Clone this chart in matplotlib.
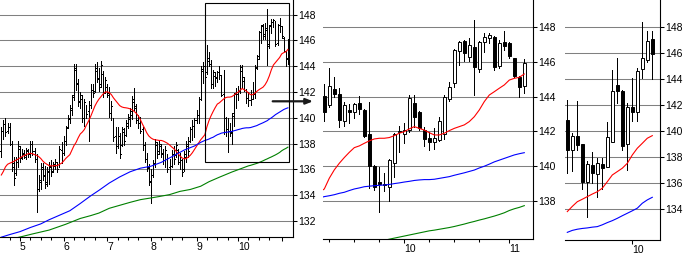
#! /usr/bin/env python3
import numpy as np
import matplotlib
matplotlib.use('Agg')
from matplotlib import pyplot as plt
from matplotlib.patches import Rectangle

plt.rcParams['font.family'] = ['Liberation Sans', 'DejaVu Sans']
plt.rcParams['font.size'] = 7.5

# ---- daily bars, trading day index 0..138 (left panel = all, middle panel = 98..138) ----
day_open = [
    137.4, 138.9, 139.4, 139.0, 139.3, 138.0, 136.5, 135.7, 136.6, 137.6,
    137.0, 137.2, 137.0, 137.4, 137.3, 137.9, 137.4, 136.8, 134.5, 135.0,
    136.0, 135.6, 135.0, 135.8, 136.2, 135.9, 136.3, 136.5, 136.3, 137.5,
    137.3, 138.2, 139.3, 139.9, 140.6, 141.8, 143.7, 142.7, 141.3, 141.5,
    140.1, 140.8, 140.5, 141.0, 142.2, 142.1, 143.6, 143.0, 142.6, 143.4,
    142.0, 142.4, 141.9, 140.5, 139.8, 138.6, 137.8, 138.6, 137.9, 138.9,
    138.7, 139.4, 139.9, 140.2, 141.2, 140.8, 139.9, 139.5, 139.1, 137.9,
    136.8, 136.2, 135.0, 135.6, 136.4, 137.9, 137.4, 137.8, 137.2, 136.6,
    137.1, 136.2, 136.3, 137.2, 137.1, 137.5, 136.6, 136.7, 136.0, 137.0,
    137.8, 138.2, 138.9, 139.3, 139.8, 140.2, 141.5, 143.6,
    144.04, 143.53, 144.44, 144.14, 142.60, 143.22, 143.10, 143.62, 143.24, 141.85,
    140.01, 139.11, 138.95, 138.82, 140.16, 141.95, 141.84, 142.09, 143.62, 143.14,
    142.08, 141.64, 141.42, 141.50, 141.85, 143.85, 144.77, 146.65, 147.21, 146.31,
    146.85, 145.58, 147.17, 147.37, 147.46, 145.79, 147.17, 147.12, 146.21, 145.16,
    144.62]
day_high = [
    139.3, 139.8, 140.0, 139.6, 139.6, 138.2, 137.0, 137.0, 138.2, 137.8,
    137.6, 137.5, 137.7, 137.6, 138.2, 138.2, 137.7, 137.2, 135.6, 136.5,
    136.5, 136.3, 136.2, 136.6, 136.7, 136.6, 136.8, 136.6, 137.8, 138.1,
    138.6, 139.4, 140.2, 141.0, 141.8, 144.2, 144.2, 143.0, 142.0, 141.8,
    141.5, 141.0, 141.3, 142.6, 142.6, 144.2, 144.3, 143.9, 144.4, 143.6,
    143.2, 142.6, 142.4, 141.3, 140.0, 139.3, 139.3, 138.8, 139.3, 139.2,
    139.8, 140.3, 140.8, 141.7, 142.3, 141.1, 140.2, 140.1, 139.3, 138.1,
    137.3, 136.4, 136.0, 136.7, 138.4, 138.1, 138.3, 138.0, 137.6, 137.8,
    137.2, 136.8, 137.5, 137.8, 138.1, 137.6, 137.3, 136.8, 137.4, 138.2,
    138.5, 139.3, 139.8, 140.0, 140.6, 141.6, 144.0, 144.3,
    144.74, 145.68, 145.14, 144.52, 143.68, 143.57, 143.62, 144.04, 143.30, 143.68,
    140.05, 139.97, 139.59, 140.40, 141.90, 142.31, 142.47, 144.10, 144.10, 143.18,
    142.24, 141.99, 142.18, 142.81, 144.10, 144.87, 146.73, 147.21, 147.25, 147.36,
    148.42, 147.21, 147.65, 147.65, 147.50, 147.27, 147.78, 147.15, 146.25, 145.20,
    146.15]
day_low = [
    137.0, 138.4, 138.6, 138.8, 137.9, 135.9, 134.8, 135.6, 136.2, 136.6,
    136.8, 136.9, 136.8, 137.0, 137.0, 137.1, 136.6, 132.7, 134.3, 134.5,
    135.2, 134.6, 134.7, 134.9, 135.5, 135.8, 136.0, 135.8, 136.2, 136.5,
    137.1, 137.9, 139.2, 139.6, 140.2, 141.4, 142.2, 140.9, 140.8, 139.7,
    139.4, 140.0, 138.2, 140.8, 141.6, 142.0, 142.8, 142.1, 142.4, 141.6,
    141.9, 141.6, 140.1, 139.8, 138.2, 137.3, 137.7, 136.9, 137.8, 137.9,
    138.6, 139.2, 139.4, 139.9, 140.6, 139.6, 139.2, 138.8, 137.5, 136.6,
    135.9, 134.8, 133.4, 135.4, 136.2, 136.9, 137.2, 137.0, 136.4, 136.2,
    135.8, 134.9, 136.2, 136.4, 137.0, 136.4, 136.0, 135.5, 135.9, 136.6,
    137.0, 138.1, 138.3, 138.5, 139.6, 139.6, 141.4, 142.7,
    142.61, 143.43, 144.00, 142.28, 142.34, 142.51, 142.80, 143.01, 141.70, 138.73,
    138.63, 137.39, 138.59, 138.01, 139.40, 140.80, 141.36, 141.96, 142.28, 142.09,
    141.19, 140.94, 140.97, 141.47, 141.54, 143.77, 144.58, 145.83, 146.08, 146.08,
    144.10, 145.41, 146.60, 147.08, 145.54, 145.64, 146.69, 146.21, 145.16, 144.00,
    144.20]
day_close = [
    139.0, 139.5, 138.9, 139.4, 138.1, 136.2, 135.3, 136.8, 137.8, 136.9,
    137.3, 137.1, 137.5, 137.2, 138.0, 137.4, 136.9, 133.4, 135.2, 136.2,
    135.5, 134.9, 135.9, 136.3, 135.8, 136.4, 136.6, 136.0, 137.6, 137.1,
    138.4, 139.2, 140.0, 140.8, 141.6, 143.9, 142.6, 141.2, 141.8, 140.0,
    141.2, 140.3, 141.0, 142.4, 141.9, 143.9, 143.1, 142.4, 144.1, 141.9,
    142.9, 141.8, 140.4, 140.9, 138.5, 137.6, 139.0, 137.2, 139.1, 138.2,
    139.6, 140.1, 140.5, 141.5, 140.9, 139.8, 139.6, 139.0, 137.8, 136.9,
    136.1, 135.1, 135.6, 136.5, 138.1, 137.2, 138.0, 137.3, 136.7, 137.5,
    136.0, 135.4, 137.3, 136.8, 137.9, 136.6, 137.0, 135.8, 137.2, 138.0,
    137.4, 139.1, 139.4, 139.8, 140.3, 141.4, 143.8, 144.0,
    143.14, 144.62, 144.16, 142.66, 143.53, 143.14, 143.57, 143.30, 141.76, 140.03,
    138.82, 138.98, 138.90, 140.35, 141.85, 142.00, 142.08, 143.91, 142.85, 142.18,
    141.57, 141.38, 141.64, 142.60, 143.96, 144.58, 146.69, 147.13, 146.50, 146.98,
    145.70, 147.13, 147.46, 147.56, 145.73, 147.08, 146.94, 146.35, 145.21, 144.54,
    145.96]

# moving averages
red_ma = [
    135.57, 135.85, 136.2, 136.4, 136.48, 136.55, 136.62, 136.72, 136.8, 136.9,
    137.0, 137.08, 137.15, 137.22, 137.25, 137.22, 137.15, 137.1, 137.0, 136.85,
    136.65, 136.5, 136.4, 136.3, 136.28, 136.28, 136.3, 136.3, 136.4, 136.48,
    136.65, 136.85, 137.0, 137.15, 137.5, 137.85, 138.1, 138.45, 138.75, 138.9,
    139.1, 139.45, 139.75, 140.1, 140.5, 140.9, 141.2, 141.45, 141.65, 141.85,
    142.0, 142.02, 141.95, 141.8, 141.55, 141.35, 141.15, 140.95, 140.85, 140.8,
    140.78, 140.75, 140.7, 140.62, 140.5, 140.35, 140.15, 139.85, 139.5, 139.2,
    138.85, 138.6, 138.45, 138.35, 138.3, 138.28, 138.25, 138.25, 138.2, 138.12,
    138.03, 137.9, 137.75, 137.62, 137.45, 137.25, 137.05, 136.9, 136.82, 136.85,
    136.95, 137.1, 137.3, 137.55, 137.8, 138.05, 138.3, 138.5,
    138.69, 139.31, 139.79, 140.17, 140.5, 140.8, 141.07, 141.17, 141.32, 141.46,
    141.57, 141.61, 141.61, 141.65, 141.76, 141.9, 141.99, 142.15, 142.28, 142.18,
    142.08, 141.93, 141.8, 141.8, 141.9, 142.05, 142.18, 142.28, 142.38, 142.57,
    142.85, 143.24, 143.72, 144.1, 144.29, 144.49, 144.68, 144.96, 145.06, 145.12,
    145.31]
blue_days = [0, 4, 9, 14, 19, 23, 28, 33, 38, 43, 47, 52, 57, 62, 67, 72, 77, 84, 88,
             93, 96] + list(range(98, 139))
blue_ma = [130.75, 130.95, 131.18, 131.5, 131.78, 132.1, 132.45, 132.8, 133.36, 133.95,
           134.38, 134.95, 135.42, 135.82, 136.1, 136.25, 136.55, 137.15, 137.5, 137.82,
           138.1,
           138.25, 138.3, 138.36, 138.44, 138.5, 138.6, 138.69, 138.75, 138.82, 138.85,
           138.88, 138.9, 138.92, 138.95, 139.0, 139.04, 139.09, 139.13, 139.18, 139.21,
           139.23, 139.23, 139.25, 139.3, 139.35, 139.4, 139.48, 139.55, 139.62, 139.7,
           139.78, 139.9, 140.0, 140.12, 140.25, 140.35, 140.45, 140.55, 140.65, 140.72,
           140.78]
green_days = [5, 10, 15, 23, 31, 38, 43, 47, 52, 57, 62, 67, 72, 76, 81, 86, 91, 96, 100,
              105] + list(range(111, 139))
green_ma = [130.62, 130.8, 131.0, 131.3, 131.75, 132.2, 132.42, 132.62, 132.99, 133.22,
            133.45, 133.66, 133.79, 133.9, 134.05, 134.3, 134.45, 134.7, 135.05, 135.4,
            135.8, 135.86, 135.92, 135.98, 136.04, 136.1, 136.16, 136.22, 136.28, 136.32,
            136.37, 136.42, 136.47, 136.53, 136.6, 136.67, 136.75, 136.82, 136.9, 136.97,
            137.05, 137.13, 137.22, 137.32, 137.45, 137.55, 137.63, 137.73]

month_days = [9, 30, 51, 72, 94, 114, 135]
month_names = ['5', '6', '7', '8', '9', '10', '']
minor_days = [4, 14, 19, 24, 35, 40, 45, 56, 61, 66, 77, 82, 87, 99, 104, 109, 119, 124, 129]

# ---- weekly candles (right panel) ----
wk_open = [140.86, 138.55, 139.62, 139.0, 136.1, 137.39, 136.7, 137.47, 137.21,
           139.19, 143.56, 143.12, 139.01, 141.84, 141.5, 144.76, 145.48, 147.1]
wk_high = [142.39, 139.83, 142.35, 139.0, 137.73, 138.42, 137.9, 137.96, 140.73,
           144.71, 145.61, 143.2, 142.2, 144.07, 144.84, 148.44, 147.72, 147.72]
wk_low = [136.75, 136.96, 138.55, 135.52, 133.36, 136.03, 134.9, 135.52, 137.21,
          139.19, 142.2, 138.55, 137.0, 140.81, 140.81, 144.07, 145.35, 144.0]
wk_close = [138.55, 139.62, 138.93, 136.1, 137.47, 136.8, 137.52, 137.14, 139.58,
            143.12, 143.12, 138.88, 141.84, 141.5, 144.64, 145.61, 146.97, 145.92]
wk_red = [133.8, 134.2, 134.56, 134.75, 134.95, 135.15, 135.33, 135.6, 136.1,
          136.62, 136.88, 137.14, 137.52, 138.16, 138.68, 139.06, 139.45, 139.65]
wk_blue = [132.2, 132.35, 132.44, 132.5, 132.54, 132.6, 132.64, 132.78, 132.95,
           133.1, 133.28, 133.48, 133.67, 133.86, 134.06, 134.44, 134.7, 134.9]

GRID = '#808080'


def style_axis(ax, yticks):
    ax.set_yticks(yticks)
    ax.yaxis.tick_right()
    ax.grid(axis='y', color=GRID, lw=0.75)
    ax.set_axisbelow(True)
    for s in ('left', 'top'):
        ax.spines[s].set_visible(False)
    for s in ('right', 'bottom'):
        ax.spines[s].set_linewidth(0.8)
    ax.tick_params(axis='y', length=3, width=0.75, pad=0.8, labelsize=7.5)
    ax.tick_params(axis='x', which='major', length=3.0, width=0.75, pad=0.4, labelsize=7.5)
    ax.tick_params(axis='x', which='minor', length=1.8, width=0.75)


def set_xlabels(ax, ticks, labels, minor=()):
    ax.set_xticks(ticks)
    ax.set_xticklabels(labels)
    ax.set_xticks(minor, minor=True)
    for t in ax.get_xticklabels():
        t.set_ha('left')


def candles(ax, x, o, h, l, c, width=0.62):
    ax.vlines(x, l, h, color='k', lw=0.7, antialiased=False, zorder=2)
    for xi, oi, ci in zip(x, o, c):
        lo, hi = min(oi, ci), max(oi, ci)
        fc = 'k' if ci < oi else 'white'
        ax.add_patch(Rectangle((xi - width / 2, lo), width, max(hi - lo, 0.04),
                               fc=fc, ec='k', lw=0.7, zorder=3))


days = np.arange(len(day_close))
fig = plt.figure(figsize=(6.87, 2.54), dpi=100)

# left: daily OHLC bars
ax1 = fig.add_axes([0, 1 - 237.3 / 254, 292.7 / 687, 237.3 / 254])
ax1.vlines(days, day_low, day_high, color='k', lw=0.6, antialiased=False, zorder=2)
ax1.hlines(day_open, days - 0.4, days, color='k', lw=0.6, antialiased=False, zorder=2)
ax1.hlines(day_close, days, days + 0.4, color='k', lw=0.6, antialiased=False, zorder=2)
ax1.plot(days, red_ma, color='red', lw=0.8, zorder=4)
ax1.plot(blue_days, blue_ma, color='blue', lw=0.8, zorder=4)
ax1.plot(green_days, green_ma, color='green', lw=0.8, zorder=4)
ax1.set_xlim(-0.63, 140.3)
ax1.set_ylim(130.74, 149.14)
style_axis(ax1, range(132, 149, 2))
set_xlabels(ax1, month_days, month_names, minor_days)
ax1.add_patch(Rectangle((98.2, 136.56), 40.46, 12.37, fill=False, ec='k', lw=0.8,
                        clip_on=False, zorder=5))

# middle: zoom of the last 41 days as candles
ax2 = fig.add_axes([322.7 / 687, 1 - 239 / 254, 210.6 / 687, 239 / 254])
sl = slice(98, None)
candles(ax2, days[sl], day_open[sl], day_high[sl], day_low[sl], day_close[sl])
ax2.plot(days, red_ma, color='red', lw=0.8, zorder=4)
ax2.plot(blue_days, blue_ma, color='blue', lw=0.8, zorder=4)
ax2.plot(green_days, green_ma, color='green', lw=0.8, zorder=4)
ax2.set_xlim(97.68, 139.8)
ax2.set_ylim(135.81, 149.57)
style_axis(ax2, range(138, 149, 2))
set_xlabels(ax2, [114, 135], ['10', '11'], [99, 104, 109, 119, 124, 129])

# right: weekly candles
weeks = np.arange(len(wk_close))
ax3 = fig.add_axes([565 / 687, 1 - 240 / 254, 95 / 687, 240 / 254])
candles(ax3, weeks, wk_open, wk_high, wk_low, wk_close)
ax3.plot(weeks, wk_red, color='red', lw=0.8, zorder=4)
ax3.plot(weeks, wk_blue, color='blue', lw=0.8, zorder=4)
ax3.set_xlim(-0.46, 18.54)
ax3.set_ylim(131.61, 150.1)
style_axis(ax3, range(134, 149, 2))
set_xlabels(ax3, [13], ['10'])

# arrow from the box to the zoomed panel
ax1.annotate('', xy=(313, 152.7), xytext=(272.7, 152.7),
             xycoords='figure pixels', textcoords='figure pixels',
             arrowprops=dict(arrowstyle='-|>,head_length=0.55,head_width=0.22',
                             color='#1a1a1a', lw=1.6, shrinkA=0, shrinkB=0),
             annotation_clip=False)

fig.savefig('out.png', dpi=100)
